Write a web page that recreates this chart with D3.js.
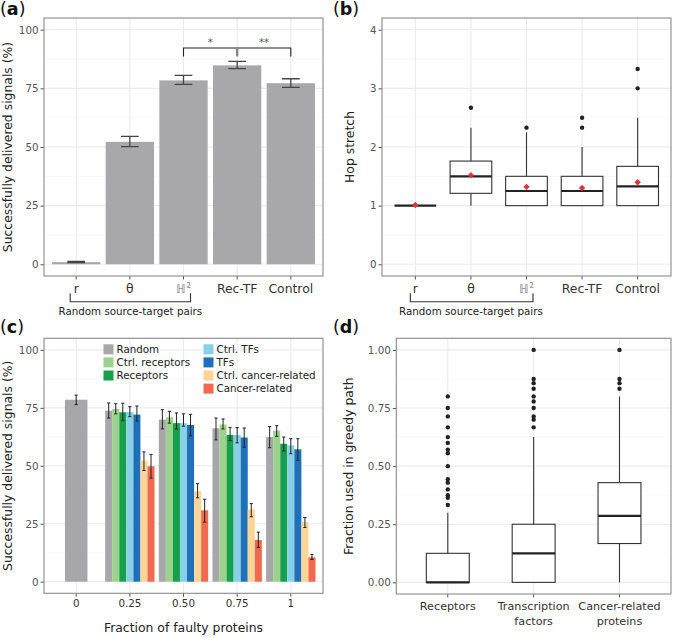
<!DOCTYPE html>
<html><head><meta charset="utf-8">
<script src="https://cdn.jsdelivr.net/npm/d3@7"></script>
<style>body{margin:0;background:#fff}svg{display:block}text{font-family:"DejaVu Sans",sans-serif}</style>
</head><body>
<svg id="chart" width="673" height="638"></svg>
<script>
// ---------- DATA ----------
// (a)
const catsA = ["r", "θ", "ℍ²", "Rec-TF", "Control"];
const deliveredA = [0.9, 52.2, 78.4, 84.8, 77.2];
const errLowA = [0.7, 50.2, 76.7, 83.4, 75.4];
const errHighA = [1.2, 54.5, 80.5, 86.5, 79.1];
const ticksA = [0, 25, 50, 75, 100];
// (b)
const catsB = ["r", "θ", "ℍ²", "Rec-TF", "Control"];
const q1B = [1, 1.21, 1, 1, 1];
const medB = [1, 1.5, 1.25, 1.25, 1.33];
const q3B = [1, 1.76, 1.5, 1.5, 1.67];
const whiskLoB = [1, 1, 1, 1, 1];
const whiskHiB = [1, 2.33, 2.25, 2.0, 2.5];
const meanB = [1.01, 1.52, 1.32, 1.30, 1.40];
const outliersB = [[], [2.67], [2.33], [2.33, 2.5], [3.0, 3.33]];
const ticksB = [0, 1, 2, 3, 4];
// (c)
const fractionsC = ["0", "0.25", "0.50", "0.75", "1"];
const groupsC = ["Random", "Ctrl. receptors", "Receptors", "Ctrl. TFs", "TFs", "Ctrl. cancer-related", "Cancer-related"];
const colorsC = ["#a7a7aa", "#9dd28d", "#16a04e", "#87d0e8", "#1f70b8", "#fdd596", "#ef6a4e"];
const randomC = [78.5, 73.8, 69.9, 66.2, 62.4];
const randomLoC = [76.4, 70.6, 65.9, 61.2, 57.8];
const randomHiC = [80.5, 77.1, 74.2, 70.6, 66.9];
const ctrlRecC = [null, 74.5, 70.9, 67.8, 65.2];
const ctrlRecLoC = [null, 72.4, 68.4, 65.9, 62.7];
const ctrlRecHiC = [null, 76.8, 73.5, 70.2, 67.3];
const recC = [null, 73.1, 68.4, 63.3, 59.5];
const recLoC = [null, 69.5, 65.9, 60.9, 56.4];
const recHiC = [null, 77.0, 72.8, 66.6, 62.4];
const ctrlTfC = [null, 73.2, 68.4, 63.3, 58.8];
const ctrlTfLoC = [null, 71.2, 67.1, 59.9, 55.2];
const ctrlTfHiC = [null, 75.5, 72.4, 66.5, 61.7];
const tfC = [null, 72.1, 67.6, 62.2, 57.1];
const tfLoC = [null, 69.3, 62.9, 58.0, 52.4];
const tfHiC = [null, 75.8, 72.2, 66.3, 61.7];
const ctrlCancerC = [null, 52.3, 39.0, 31.2, 25.7];
const ctrlCancerLoC = [null, 48.0, 36.2, 28.0, 23.4];
const ctrlCancerHiC = [null, 56.0, 42.3, 33.7, 27.7];
const cancerC = [null, 49.8, 30.8, 18.0, 10.5];
const cancerLoC = [null, 44.7, 25.7, 14.8, 9.6];
const cancerHiC = [null, 54.9, 35.6, 21.4, 11.8];
const ticksC = [0, 25, 50, 75, 100];
// (d)
const catsD = ["Receptors", "Transcription\nfactors", "Cancer-related\nproteins"];
const q1D = [0, 0, 0.167];
const medD = [0, 0.125, 0.286];
const q3D = [0.125, 0.25, 0.429];
const whiskLoD = [0, 0, 0];
const whiskHiD = [0.3, 0.625, 0.8];
const outliersD = [
  [0.8, 0.75, 0.714, 0.667, 0.625, 0.6, 0.571, 0.556, 0.5, 0.444, 0.429, 0.4, 0.375, 0.364, 0.333],
  [1.0, 0.875, 0.857, 0.833, 0.8, 0.778, 0.75, 0.714, 0.7, 0.667],
  [1.0, 0.875, 0.857, 0.833]
];
const ticksD = [0, 0.25, 0.5, 0.75, 1];

// ---------- DRAWING ----------
const svg = d3.select("#chart");
const GRID_MAJ = "#ebebeb", GRID_MIN = "#f5f5f5", BORDER = "#8a8a8a", TICKCOL = "#555";

function panel(opts) {
  const g = svg.append("g");
  const y = d3.scaleLinear().domain(opts.ydomain).range([opts.bottom, opts.top]);
  const x = d3.scaleBand().domain(opts.cats).range([opts.left, opts.right]).paddingOuter(0.1).paddingInner(0);
  const minor = [];
  for (let i = 0; i < opts.ticks.length - 1; i++) minor.push((opts.ticks[i] + opts.ticks[i + 1]) / 2);
  g.append("g").selectAll("line").data(minor).join("line")
    .attr("x1", opts.left).attr("x2", opts.right).attr("y1", d => y(d)).attr("y2", d => y(d))
    .attr("stroke", GRID_MIN).attr("stroke-width", 0.6);
  g.append("g").selectAll("line").data(opts.ticks).join("line")
    .attr("x1", opts.left).attr("x2", opts.right).attr("y1", d => y(d)).attr("y2", d => y(d))
    .attr("stroke", GRID_MAJ).attr("stroke-width", 1.1);
  g.append("g").selectAll("line").data(opts.cats).join("line")
    .attr("x1", d => x(d) + x.bandwidth() / 2).attr("x2", d => x(d) + x.bandwidth() / 2)
    .attr("y1", opts.top).attr("y2", opts.bottom)
    .attr("stroke", GRID_MAJ).attr("stroke-width", 1.1);
  const content = svg.append("g");
  const yAxis = d3.axisLeft(y).tickValues(opts.ticks).tickFormat(opts.fmt).tickSize(3.5).tickPadding(2);
  const ya = svg.append("g").attr("transform", `translate(${opts.left},0)`).call(yAxis);
  ya.select(".domain").remove();
  ya.selectAll("line").attr("stroke", TICKCOL);
  ya.selectAll("text").attr("fill", "#555").attr("font-size", opts.tickFont || 10.3);
  const xAxis = d3.axisBottom(x).tickSize(3.5).tickPadding(opts.xpad || 5).tickFormat(() => "");
  const xa = svg.append("g").attr("transform", `translate(0,${opts.bottom})`).call(xAxis);
  xa.select(".domain").remove();
  xa.selectAll("line").attr("stroke", TICKCOL);
  const lab = svg.append("g");
  opts.cats.forEach((c, i) => {
    const lines = c.split("\n");
    const t = lab.append("text").attr("x", x(c) + x.bandwidth() / 2).attr("y", opts.xlabY)
      .attr("text-anchor", "middle").attr("font-size", opts.xFont || 12.4)
      .attr("fill", (opts.xColors && opts.xColors[i]) || "#333");
    if (opts.xFonts && opts.xFonts[i]) t.style("font-family", opts.xFonts[i]);
    lines.forEach((l, j) => t.append("tspan").attr("x", x(c) + x.bandwidth() / 2).attr("dy", j ? 15 : 0).text(l));
  });
  opts.borderG = () => svg.append("rect").attr("x", opts.left).attr("y", opts.top)
    .attr("width", opts.right - opts.left).attr("height", opts.bottom - opts.top)
    .attr("fill", "none").attr("stroke", BORDER).attr("stroke-width", 1.1);
  svg.append("text").attr("transform", `translate(${opts.ytitleX},${(opts.top + opts.bottom) / 2}) rotate(-90)`)
    .attr("text-anchor", "middle").attr("font-size", 12.4).attr("fill", "#222").text(opts.ytitle);
  const pl = svg.append("text").attr("x", opts.labX).attr("y", opts.labY).attr("font-size", 17.5).attr("fill", "#111");
  pl.append("tspan").text("(");
  pl.append("tspan").attr("font-weight", "bold").text(opts.label);
  pl.append("tspan").text(")");
  return { x, y, g: content, opts };
}

function bracket(x1, x2, yb, text, cx) {
  const p = d3.path();
  p.moveTo(x1, yb - 8.5); p.lineTo(x1, yb); p.lineTo(x2, yb); p.lineTo(x2, yb - 8.5);
  svg.append("path").attr("d", p.toString()).attr("fill", "none").attr("stroke", "#333").attr("stroke-width", 1.1);
  svg.append("text").attr("x", cx).attr("y", yb + 13.5).attr("text-anchor", "middle")
    .attr("font-size", 10.3).attr("fill", "#222").text(text);
}

const HFONTS = [null, null, "'Noto Sans CJK SC'", null, null];

// ----- Panel (a)
const A = panel({ left: 44, right: 323, top: 18, bottom: 276, ydomain: [-5, 105], ticks: ticksA, cats: catsA,
  fmt: d3.format("d"), xlabY: 293, ytitle: "Successfully delivered signals (%)", ytitleX: 12,
  label: "a", labX: 0, labY: 15, xColors: ["#333", "#333", "#8a8a8a", "#333", "#333"], xFonts: HFONTS });
const bwA = A.x.bandwidth();
A.g.selectAll("rect").data(catsA).join("rect")
  .attr("x", d => A.x(d) + bwA * 0.05).attr("width", bwA * 0.9)
  .attr("y", (d, i) => A.y(deliveredA[i])).attr("height", (d, i) => A.y(0) - A.y(deliveredA[i]))
  .attr("fill", "#a8a8aa");
catsA.forEach((c, i) => {
  const cx = A.x(c) + bwA / 2, hw = bwA * 0.165;
  const p = d3.path();
  p.moveTo(cx - hw, A.y(errHighA[i])); p.lineTo(cx + hw, A.y(errHighA[i]));
  p.moveTo(cx, A.y(errHighA[i])); p.lineTo(cx, A.y(errLowA[i]));
  p.moveTo(cx - hw, A.y(errLowA[i])); p.lineTo(cx + hw, A.y(errLowA[i]));
  A.g.append("path").attr("d", p.toString()).attr("stroke", "#444").attr("stroke-width", 1.3).attr("fill", "none");
});
{
  const xH = A.x(catsA[2]) + bwA / 2, xR = A.x(catsA[3]) + bwA / 2, xC = A.x(catsA[4]) + bwA / 2;
  const yTop = A.y(92.2), yEnd = A.y(88.6);
  const p = d3.path();
  p.moveTo(xH, yEnd); p.lineTo(xH, yTop); p.lineTo(xC, yTop); p.lineTo(xC, yEnd);
  A.g.append("path").attr("d", p.toString()).attr("fill", "none").attr("stroke", "#222").attr("stroke-width", 1.1);
  A.g.append("line").attr("x1", xR).attr("x2", xR).attr("y1", yTop).attr("y2", yEnd)
    .attr("stroke", "#888").attr("stroke-width", 2.5);
  A.g.append("text").attr("x", (xH + xR) / 2).attr("y", yTop - 2).attr("text-anchor", "middle")
    .attr("font-size", 10).attr("fill", "#555").text("*");
  A.g.append("text").attr("x", (xR + xC) / 2).attr("y", yTop - 2).attr("text-anchor", "middle")
    .attr("font-size", 10).attr("fill", "#555").text("**");
}
A.opts.borderG();
bracket(A.x(catsA[0]) + bwA / 2 - 6, A.x(catsA[2]) + bwA / 2 + 7, 301.7, "Random source-target pairs",
  (A.x(catsA[0]) + A.x(catsA[2]) + bwA) / 2 + 0.5);

function boxes(P, cats, q1, med, q3, lo, hi, outl, widthFrac, means) {
  const bw = P.x.bandwidth();
  cats.forEach((c, i) => {
    const cx = P.x(c) + bw / 2, hw = bw * widthFrac / 2;
    const gg = P.g.append("g");
    if (hi[i] > q3[i]) gg.append("line").attr("x1", cx).attr("x2", cx).attr("y1", P.y(q3[i])).attr("y2", P.y(hi[i]))
      .attr("stroke", "#333").attr("stroke-width", 1.1);
    if (lo[i] < q1[i]) gg.append("line").attr("x1", cx).attr("x2", cx).attr("y1", P.y(q1[i])).attr("y2", P.y(lo[i]))
      .attr("stroke", "#333").attr("stroke-width", 1.1);
    if (q3[i] > q1[i]) gg.append("rect").attr("x", cx - hw).attr("width", hw * 2)
      .attr("y", P.y(q3[i])).attr("height", P.y(q1[i]) - P.y(q3[i]))
      .attr("fill", "#fff").attr("stroke", "#333").attr("stroke-width", 1.1);
    gg.append("line").attr("x1", cx - hw).attr("x2", cx + hw).attr("y1", P.y(med[i])).attr("y2", P.y(med[i]))
      .attr("stroke", "#222").attr("stroke-width", 2.2);
    gg.selectAll("circle").data(outl[i]).join("circle")
      .attr("cx", cx).attr("cy", d => P.y(d)).attr("r", 2.2).attr("fill", "#222");
    if (means) {
      const s = 3.2, my = P.y(means[i]);
      gg.append("path").attr("d", `M${cx},${my - s}L${cx + s},${my}L${cx},${my + s}L${cx - s},${my}Z`)
        .attr("fill", "#e0343f");
    }
  });
}

// ----- Panel (b)
const B = panel({ left: 382, right: 671, top: 18, bottom: 276, ydomain: [-0.2, 4.2], ticks: ticksB, cats: catsB,
  fmt: d3.format("d"), xlabY: 293, ytitle: "Hop stretch", ytitleX: 353.5,
  label: "b", labX: 333, labY: 15, xColors: ["#333", "#333", "#8a8a8a", "#333", "#333"], xFonts: HFONTS });
boxes(B, catsB, q1B, medB, q3B, whiskLoB, whiskHiB, outliersB, 0.75, meanB);
B.opts.borderG();
{
  const bw = B.x.bandwidth();
  bracket(B.x(catsB[0]) + bw / 2 - 5, B.x(catsB[2]) + bw / 2 + 6.5, 301.7, "Random source-target pairs",
    (B.x(catsB[0]) + B.x(catsB[2]) + bw) / 2);
}

// ----- Panel (c)
const C = panel({ left: 44, right: 323, top: 338.3, bottom: 593.3, ydomain: [-5, 105], ticks: ticksC, cats: fractionsC,
  fmt: d3.format("d"), xlabY: 607, xFont: 10.3, ytitle: "Successfully delivered signals (%)", ytitleX: 12,
  label: "c", labX: 0, labY: 333 });
{
  const vals = [randomC, ctrlRecC, recC, ctrlTfC, tfC, ctrlCancerC, cancerC];
  const los = [randomLoC, ctrlRecLoC, recLoC, ctrlTfLoC, tfLoC, ctrlCancerLoC, cancerLoC];
  const his = [randomHiC, ctrlRecHiC, recHiC, ctrlTfHiC, tfHiC, ctrlCancerHiC, cancerHiC];
  const bw = C.x.bandwidth();
  fractionsC.forEach((f, fi) => {
    const present = groupsC.map((g, gi) => gi).filter(gi => vals[gi][fi] != null);
    const inner = d3.scaleBand().domain(present.map(String))
      .range(present.length === 1 ? [C.x(f) + bw * 0.29, C.x(f) + bw * 0.71] : [C.x(f) + bw * 0.04, C.x(f) + bw * 0.96]);
    present.forEach(gi => {
      const v = vals[gi][fi];
      C.g.append("rect").attr("x", inner(String(gi))).attr("width", inner.bandwidth())
        .attr("y", C.y(v)).attr("height", C.y(0) - C.y(v)).attr("fill", colorsC[gi]);
    });
    present.forEach(gi => {
      const cx = inner(String(gi)) + inner.bandwidth() / 2, hw = 1.6;
      const p = d3.path();
      p.moveTo(cx - hw, C.y(his[gi][fi])); p.lineTo(cx + hw, C.y(his[gi][fi]));
      p.moveTo(cx, C.y(his[gi][fi])); p.lineTo(cx, C.y(los[gi][fi]));
      p.moveTo(cx - hw, C.y(los[gi][fi])); p.lineTo(cx + hw, C.y(los[gi][fi]));
      C.g.append("path").attr("d", p.toString()).attr("stroke", "#222").attr("stroke-width", 1).attr("fill", "none");
    });
  });
  const leg = svg.append("g");
  const rowY = [349.3, 362.4, 375.5, 388.6];
  const colKeyX = [103.5, 203.5], colTextX = [116.5, 216.5];
  groupsC.forEach((g, gi) => {
    const col = gi < 3 ? 0 : 1, row = gi < 3 ? gi : gi - 3;
    leg.append("rect").attr("x", colKeyX[col]).attr("y", rowY[row] - 5).attr("width", 10).attr("height", 10)
      .attr("fill", colorsC[gi]);
    leg.append("text").attr("x", colTextX[col]).attr("y", rowY[row] + 3.8).attr("font-size", 10.3)
      .attr("fill", "#222").text(g);
  });
}
C.opts.borderG();
svg.append("text").attr("x", (44 + 323) / 2).attr("y", 632).attr("text-anchor", "middle")
  .attr("font-size", 12.4).attr("fill", "#222").text("Fraction of faulty proteins");

// ----- Panel (d)
const D = panel({ left: 396.3, right: 671, top: 338.3, bottom: 594, ydomain: [-0.05, 1.05], ticks: ticksD, cats: catsD,
  fmt: d3.format(".2f"), xlabY: 609.5, xFont: 11.2, ytitle: "Fraction used in greedy path", ytitleX: 352.5,
  label: "d", labX: 333, labY: 333 });
boxes(D, catsD, q1D, medD, q3D, whiskLoD, whiskHiD, outliersD, 0.5, null);
D.opts.borderG();
</script>
</body></html>
